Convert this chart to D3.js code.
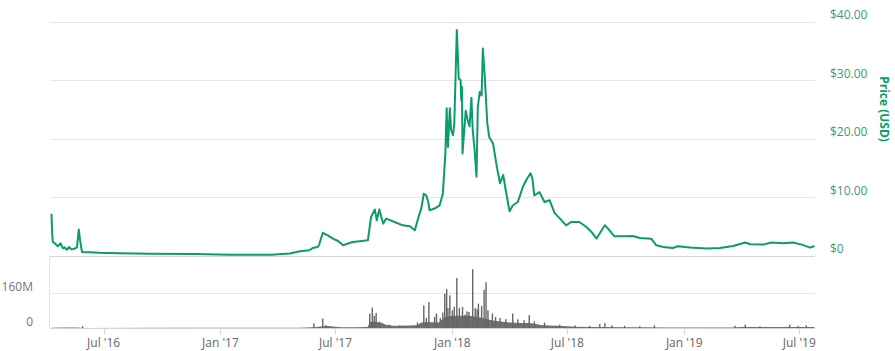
<!DOCTYPE html>
<html><head><meta charset="utf-8">
<script src="https://cdn.jsdelivr.net/npm/d3@7"></script>
<style>body{margin:0;background:#fff;} svg{display:block;font-family:"Open Sans",sans-serif;}</style>
</head><body><svg id="c" width="895" height="351"></svg>
<script>
const priceDates = ["2016-04-10","2016-04-11","2016-04-12","2016-04-15","2016-04-20","2016-04-24","2016-04-28","2016-05-01","2016-05-04","2016-05-08","2016-05-11","2016-05-16","2016-05-20","2016-05-23","2016-05-25","2016-05-28","2016-06-09","2016-06-24","2016-07-26","2016-09-11","2016-11-21","2017-01-15","2017-03-22","2017-04-20","2017-05-06","2017-05-21","2017-05-26","2017-06-03","2017-06-05","2017-06-11","2017-06-19","2017-06-27","2017-07-05","2017-07-13","2017-07-21","2017-07-28","2017-08-08","2017-08-21","2017-08-26","2017-09-01","2017-09-04","2017-09-08","2017-09-14","2017-09-19","2017-10-02","2017-10-15","2017-10-26","2017-11-03","2017-11-08","2017-11-13","2017-11-17","2017-11-21","2017-11-24","2017-11-26","2017-12-04","2017-12-12","2017-12-17","2017-12-21","2017-12-23","2017-12-25","2017-12-28","2017-12-30","2018-01-02","2018-01-04","2018-01-08","2018-01-11","2018-01-14","2018-01-15","2018-01-16","2018-01-17","2018-01-22","2018-01-25","2018-01-28","2018-01-31","2018-02-02","2018-02-05","2018-02-08","2018-02-10","2018-02-13","2018-02-16","2018-02-18","2018-02-21","2018-02-25","2018-02-28","2018-03-06","2018-03-12","2018-03-17","2018-03-22","2018-03-26","2018-04-01","2018-04-06","2018-04-14","2018-04-22","2018-04-27","2018-05-04","2018-05-07","2018-05-10","2018-05-18","2018-05-26","2018-06-03","2018-06-11","2018-06-19","2018-06-29","2018-07-07","2018-07-20","2018-07-31","2018-08-08","2018-08-16","2018-08-24","2018-08-29","2018-09-03","2018-09-13","2018-10-02","2018-10-12","2018-10-23","2018-11-10","2018-11-18","2018-11-29","2018-12-14","2018-12-22","2019-01-10","2019-02-05","2019-02-26","2019-03-19","2019-04-07","2019-04-15","2019-05-05","2019-05-18","2019-06-06","2019-06-21","2019-07-05","2019-07-18","2019-07-25"];
const priceValues = [7.2,4.0,2.4,2.14,1.62,2.14,1.28,1.45,1.03,1.5,1.1,1.2,1.45,4.48,2.65,0.65,0.6,0.51,0.43,0.34,0.29,0.2,0.2,0.38,0.77,0.94,1.33,1.5,1.8,3.93,3.5,2.94,2.53,1.8,2.09,2.36,2.48,2.65,6.63,7.9,6.07,7.9,5.5,6.36,5.78,5.21,5.04,4.36,6.36,8.07,10.6,10.3,9.2,7.78,8.07,8.63,10.6,17.5,25.2,18.6,25.2,21.5,20.6,22.6,38.6,30.3,30.0,26.6,28.9,17.5,24.8,23.2,22.1,27.0,21.5,18.0,13.5,25.4,28.0,27.4,35.4,30.6,22.6,20.3,19.2,15.2,12.4,13.8,11.2,7.6,8.6,9.2,11.8,12.9,14.1,13.2,10.3,10.9,9.2,9.5,7.3,6.4,5.21,5.78,5.78,4.93,4.08,2.94,4.36,5.21,4.65,3.33,3.33,3.38,3.03,2.92,1.8,1.51,1.33,1.62,1.4,1.23,1.33,1.68,2.26,1.97,1.91,2.26,2.14,2.26,1.91,1.4,1.68];

// volume (millions USD): background level and individual spikes
const volBaseDates = ["2016-04-10","2016-05-20","2016-06-01","2017-05-01","2017-06-01","2017-06-20","2017-07-10","2017-08-20","2017-08-25","2017-09-10","2017-09-20","2017-10-10","2017-11-05","2017-11-15","2017-12-10","2017-12-20","2018-01-01","2018-01-20","2018-02-10","2018-02-25","2018-03-15","2018-04-10","2018-05-01","2018-05-20","2018-06-15","2018-07-15","2018-09-01","2018-11-01","2019-01-01","2019-03-15","2019-04-01","2019-05-01","2019-07-25"];
const volBaseValues = [1,2,0.5,1,5,9,3,4,28,25,14,10,12,26,25,48,55,55,50,40,30,24,22,14,10,6,5,3,2,2,4,5,5];
const volSpikeDates = ["2016-05-29","2017-05-28","2017-06-11","2017-06-16","2017-08-24","2017-08-28","2017-08-31","2017-09-03","2017-09-08","2017-09-24","2017-10-10","2017-11-07","2017-11-17","2017-11-21","2017-11-25","2017-12-04","2017-12-07","2017-12-13","2017-12-17","2017-12-20","2017-12-23","2017-12-25","2017-12-28","2018-01-01","2018-01-04","2018-01-08","2018-01-12","2018-01-17","2018-01-21","2018-01-24","2018-01-27","2018-02-02","2018-02-06","2018-02-09","2018-02-11","2018-02-16","2018-02-20","2018-02-23","2018-02-26","2018-03-05","2018-03-10","2018-03-17","2018-03-26","2018-04-06","2018-04-14","2018-04-24","2018-05-02","2018-05-10","2018-05-26","2018-06-19","2018-07-13","2018-08-05","2018-08-21","2018-08-29","2018-09-09","2018-09-29","2018-10-23","2018-11-15","2019-03-22","2019-04-07","2019-04-30","2019-06-16","2019-06-29","2019-07-12"];
const volSpikeValues = [8,21,43,13,65,92,55,68,28,15,12,25,102,45,117,50,65,45,70,154,176,90,147,80,95,225,90,95,60,75,72,265,90,85,110,100,172,206,80,65,50,45,40,65,39,35,58,30,25,15,12,10,18,22,12,10,8,12,10,15,8,15,10,12];

const priceTicks = [0,10,20,30,40];
const priceTickLabels = ["$0","$10.00","$20.00","$30.00","$40.00"];
const volTicks = [0,160];
const volTickLabels = ["0","160M"];
const timeTicks = ["2016-07-01","2017-01-01","2017-07-01","2018-01-01","2018-07-01","2019-01-01","2019-07-01"];
const timeTickLabels = ["Jul '16","Jan '17","Jul '17","Jan '18","Jul '18","Jan '19","Jul '19"];

const parse = d3.utcParse("%Y-%m-%d");
const svg = d3.select("#c");
const X0 = 51.5, X1 = 814.5;
const x = d3.scaleUtc().domain(d3.extent(priceDates, parse)).range([X0, X1]);
const y = d3.scaleLinear().domain([0, 40]).range([255.8, 21.7]);
const yv = d3.scaleLinear().domain([0, 320]).range([328, 257]);

const GREEN = "#0b9b6d";
const gridL = 50, gridR = 815;

// price grid
svg.append("g").selectAll("line").data(priceTicks).join("line")
  .attr("x1", gridL).attr("x2", gridR)
  .attr("y1", d => Math.round(y(d)) + 0.5).attr("y2", d => Math.round(y(d)) + 0.5)
  .attr("stroke", (d) => d === 0 ? "#d6d6d6" : "#e6e6e6").attr("stroke-width", 1);
// price labels
svg.append("g").selectAll("text").data(priceTicks).join("text")
  .attr("x", 830).attr("y", d => y(d) - 2.4)
  .attr("fill", "#3a9c7c").attr("font-size", 12)
  .text((d, i) => priceTickLabels[i]);
svg.append("text")
  .attr("transform", "translate(884.5,109) rotate(90)")
  .attr("text-anchor", "middle").attr("dominant-baseline", "central")
  .attr("font-size", 12).attr("font-weight", "bold").attr("fill", GREEN)
  .text("Price (USD)");

// volume panel
svg.append("line").attr("x1", 49.5).attr("x2", 49.5).attr("y1", 256).attr("y2", 328)
  .attr("stroke", "#e6e6e6");
svg.append("g").selectAll("line").data(volTicks.filter(d => d > 0)).join("line")
  .attr("x1", gridL).attr("x2", gridR)
  .attr("y1", d => Math.round(yv(d)) + 0.5).attr("y2", d => Math.round(yv(d)) + 0.5)
  .attr("stroke", "#e6e6e6");
svg.append("g").selectAll("text").data(volTicks).join("text")
  .attr("x", 33).attr("y", d => yv(d) - 2)
  .attr("text-anchor", "end").attr("fill", "#777").attr("font-size", 12)
  .text((d, i) => volTickLabels[i]);

const volBase = volBaseDates.map((d, i) => ({ date: parse(d), v: volBaseValues[i] }));
svg.append("path").datum(volBase)
  .attr("d", d3.area().curve(d3.curveMonotoneX).x(d => x(d.date)).y0(yv(0)).y1(d => yv(d.v)))
  .attr("fill", "#707070");
const spikes = volSpikeDates.map((d, i) => ({ date: parse(d), v: volSpikeValues[i] }));
svg.append("g").selectAll("rect").data(spikes).join("rect")
  .attr("x", d => x(d.date) - 0.7).attr("width", 1.4)
  .attr("y", d => yv(d.v)).attr("height", d => yv(0) - yv(d.v))
  .attr("fill", "#666");

// x axis
const xa = svg.append("g");
xa.append("line").attr("x1", gridL).attr("x2", gridR).attr("y1", 328.5).attr("y2", 328.5)
  .attr("stroke", "#ccd6eb");
const tt = timeTicks.map(parse);
xa.selectAll("line.t").data(tt).join("line").attr("class", "t")
  .attr("x1", d => Math.round(x(d)) + 0.5).attr("x2", d => Math.round(x(d)) + 0.5)
  .attr("y1", 328.5).attr("y2", 334)
  .attr("stroke", "#ccd6eb");
xa.selectAll("text").data(tt).join("text")
  .attr("x", d => x(d)).attr("y", 347)
  .attr("text-anchor", "middle").attr("fill", "#666").attr("font-size", 12)
  .text((d, i) => timeTickLabels[i]);

// price line
const price = priceDates.map((d, i) => ({ date: parse(d), v: priceValues[i] }));
svg.append("path").datum(price)
  .attr("d", d3.line().x(d => x(d.date)).y(d => y(d.v)))
  .attr("fill", "none").attr("stroke", GREEN).attr("stroke-width", 2)
  .attr("stroke-linejoin", "round");
</script></body></html>
